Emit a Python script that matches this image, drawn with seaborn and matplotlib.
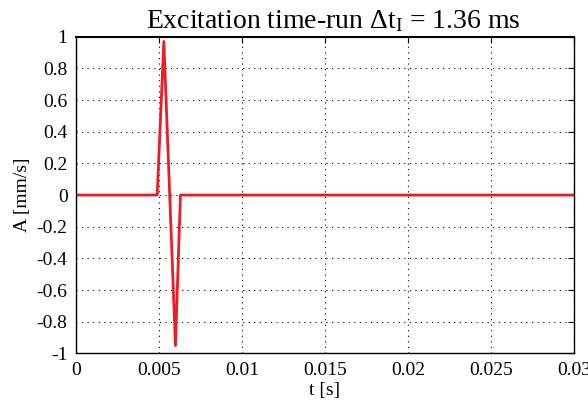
import matplotlib
matplotlib.use("Agg")
import matplotlib.pyplot as plt
import seaborn as sns
import pandas as pd

t_values = [0.0, 0.0049, 0.0053, 0.0060, 0.0063, 0.03]
a_values = [0.0, 0.0, 0.97, -0.95, 0.0, 0.0]
x_ticks = [0, 0.005, 0.01, 0.015, 0.02, 0.025, 0.03]
x_labels = ["0", "0.005", "0.01", "0.015", "0.02", "0.025", "0.03"]
y_ticks = [-1, -0.8, -0.6, -0.4, -0.2, 0, 0.2, 0.4, 0.6, 0.8, 1]
y_labels = ["-1", "-0.8", "-0.6", "-0.4", "-0.2", "0", "0.2", "0.4", "0.6", "0.8", "1"]

sns.set_style("white")
plt.rcParams["font.family"] = ["Liberation Serif", "DejaVu Serif"]
plt.rcParams["mathtext.fontset"] = "custom"
plt.rcParams["mathtext.rm"] = "Liberation Serif"
plt.rcParams["mathtext.it"] = "Liberation Serif:italic"
for k in ["text.color", "axes.labelcolor", "xtick.color", "ytick.color"]:
    plt.rcParams[k] = "black"

df = pd.DataFrame({"t": t_values, "A": a_values})

fig = plt.figure(figsize=(5.88, 4.03), dpi=100)
ax = fig.add_axes([0.129, 0.123, 0.847, 0.786])
sns.lineplot(data=df, x="t", y="A", ax=ax, color="#ec1c24", linewidth=2.0, sort=False)

ax.set_xlim(0, 0.03)
ax.set_ylim(-1, 1)
ax.set_xticks(x_ticks)
ax.set_xticklabels(x_labels)
ax.set_yticks(y_ticks)
ax.set_yticklabels(y_labels)
ax.tick_params(direction="in", length=4, width=0.8, color="black", labelcolor="black",
               labelsize=14, top=True, right=True, pad=6)
ax.grid(True, color="black", linestyle=(0, (1, 4)), linewidth=0.8)
for s in ax.spines.values():
    s.set_color("black")
    s.set_linewidth(1.0)
ax.spines["top"].set_linewidth(1.5)
ax.set_xlabel("t [s]", fontsize=14, labelpad=2, color="black")
ax.set_ylabel("A [mm/s]", fontsize=14, labelpad=4, color="black")
ax.set_title(r"Excitation time-run $\Delta$t$_\mathrm{I}$ = 1.36 ms", fontsize=20, pad=6,
             color="black", x=0.517)

fig.savefig("out.png", dpi=100)
